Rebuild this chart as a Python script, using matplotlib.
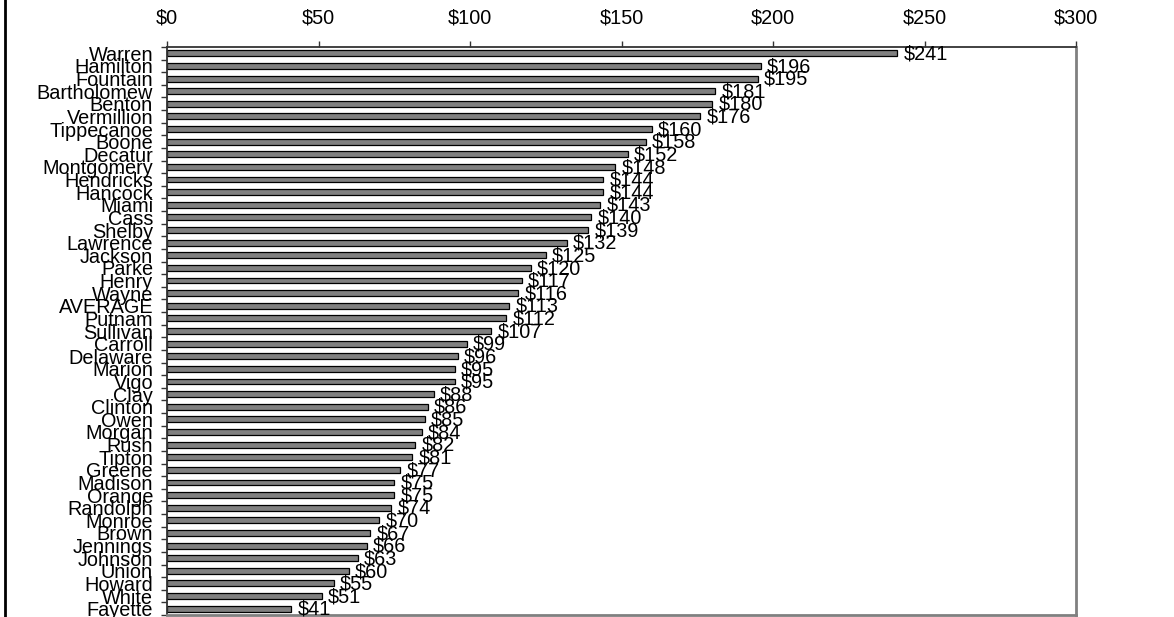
import matplotlib
matplotlib.use("Agg")
import matplotlib.pyplot as plt
from matplotlib.lines import Line2D
import numpy as np

plt.rcParams['font.family'] = ['Liberation Sans', 'DejaVu Sans']

counties = [
    "Warren", "Hamilton", "Fountain", "Bartholomew", "Benton", "Vermillion",
    "Tippecanoe", "Boone", "Decatur", "Montgomery", "Hendricks", "Hancock",
    "Miami", "Cass", "Shelby", "Lawrence", "Jackson", "Parke", "Henry",
    "Wayne", "AVERAGE", "Putnam", "Sullivan", "Carroll", "Delaware", "Marion",
    "Vigo", "Clay", "Clinton", "Owen", "Morgan", "Rush", "Tipton", "Greene",
    "Madison", "Orange", "Randolph", "Monroe", "Brown", "Jennings", "Johnson",
    "Union", "Howard", "White", "Fayette",
]
values = [
    241, 196, 195, 181, 180, 176, 160, 158, 152, 148, 144, 144, 143, 140, 139,
    132, 125, 120, 117, 116, 113, 112, 107, 99, 96, 95, 95, 88, 86, 85, 84, 82,
    81, 77, 75, 75, 74, 70, 67, 66, 63, 60, 55, 51, 41,
]
x_ticks = [0, 50, 100, 150, 200, 250, 300]
x_tick_labels = ["$0", "$50", "$100", "$150", "$200", "$250", "$300"]

FS = 14.3

fig = plt.figure(figsize=(11.74, 6.17), dpi=100)
ax = fig.add_axes([167 / 1174, 1 - 615 / 617, (1076 - 167) / 1174, (615 - 47) / 617])

y = np.arange(len(counties))
ax.barh(y, values, height=0.47, color="#808080", edgecolor="black", linewidth=0.9, zorder=2)

for yi, v in zip(y, values):
    ax.annotate(f"${v}", xy=(v, yi), xytext=(4.5, -0.5), textcoords="offset points",
                ha="left", va="center", fontsize=FS, color="black",
                annotation_clip=False, zorder=3)

ax.set_xlim(0, 300)
ax.set_ylim(len(counties) - 0.5, -0.5)

ax.xaxis.tick_top()
ax.set_xticks(x_ticks)
ax.set_xticklabels(x_tick_labels, fontsize=FS)
ax.tick_params(axis="x", direction="out", length=4.5, width=1, color="#333333", pad=9.5)

ax.set_yticks(y)
ax.set_yticklabels(counties, fontsize=FS)
ax.set_yticks(np.arange(len(counties) + 1) - 0.5, minor=True)
ax.tick_params(axis="y", which="major", length=0, pad=10)
ax.tick_params(axis="y", which="minor", direction="out", length=4.5, width=1, color="#333333")

for side in ("top", "left"):
    ax.spines[side].set_color("#333333")
    ax.spines[side].set_linewidth(1.3)
for side in ("right", "bottom"):
    ax.spines[side].set_color("#808080")
    ax.spines[side].set_linewidth(2)

# left frame edge of the figure
fig.add_artist(Line2D([4.5 / 1174, 4.5 / 1174], [0, 1], transform=fig.transFigure,
                      color="black", linewidth=2))

fig.savefig("out.png", dpi=100)
